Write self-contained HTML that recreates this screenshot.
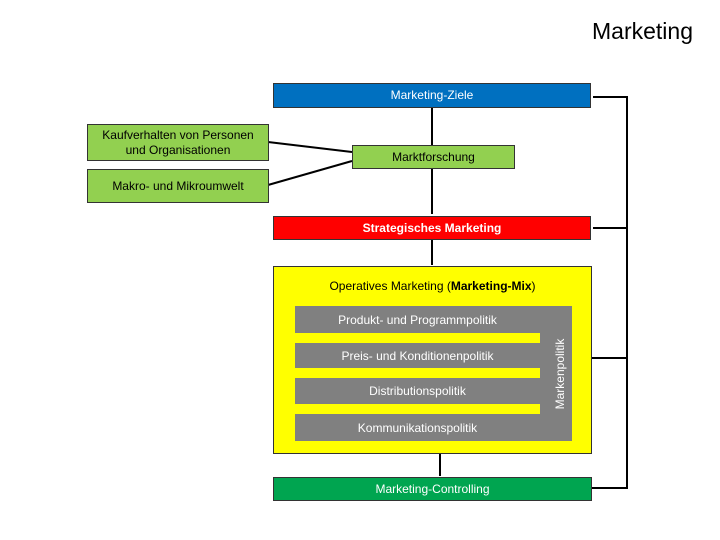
<!DOCTYPE html>
<html><head><meta charset="utf-8"><style>
body{margin:0;width:720px;height:540px;background:#fff;position:relative;font-family:"Liberation Sans",sans-serif;overflow:hidden}
.b{position:absolute;box-sizing:border-box;border:1px solid #333;display:flex;align-items:center;justify-content:center;text-align:center;font-size:12px;line-height:15px}
.g{position:absolute;background:#808080;color:#fff;font-size:12px;display:flex;align-items:center;justify-content:center}
.s{position:absolute;background:#ff0;left:295px;width:245px;height:10px}
</style></head><body>
<div style="position:absolute;right:27px;top:18px;font-size:23px">Marketing</div>
<svg width="720" height="540" style="position:absolute;left:0;top:0">
<g stroke="#000" stroke-width="2" fill="none">
<line x1="432" y1="107" x2="432" y2="145"/>
<line x1="432" y1="168" x2="432" y2="214"/>
<line x1="432" y1="239" x2="432" y2="265"/>
<line x1="440" y1="453" x2="440" y2="476"/>
<line x1="268" y1="142" x2="352" y2="152"/>
<line x1="268" y1="185" x2="352" y2="161"/>
<polyline points="591,488 627,488 627,97 593,97"/>
<line x1="627" y1="228" x2="593" y2="228"/>
<line x1="627" y1="358" x2="575" y2="358"/>
</g>
</svg>
<div class="b" style="left:273px;top:83px;width:318px;height:25px;background:#0070c0;color:#fff">Marketing-Ziele</div>
<div class="b" style="left:87px;top:124px;width:182px;height:37px;background:#92d050">Kaufverhalten von Personen<br>und Organisationen</div>
<div class="b" style="left:87px;top:169px;width:182px;height:34px;background:#92d050">Makro- und Mikroumwelt</div>
<div class="b" style="left:352px;top:145px;width:163px;height:24px;background:#92d050">Marktforschung</div>
<div class="b" style="left:273px;top:216px;width:318px;height:24px;background:#f00;color:#fff;font-weight:bold">Strategisches Marketing</div>
<div class="b" style="left:273px;top:266px;width:319px;height:188px;background:#ff0;align-items:flex-start;padding-top:12px">Operatives Marketing (<b>Marketing-Mix</b>)</div>
<div class="g" style="left:295px;top:306px;width:277px;height:135px"></div>
<div class="s" style="top:333px"></div>
<div class="s" style="top:368px"></div>
<div class="s" style="top:404px"></div>
<div class="g" style="left:295px;top:308px;width:245px;height:24px;background:none">Produkt- und Programmpolitik</div>
<div class="g" style="left:295px;top:343px;width:275px;height:25px;background:none;padding-right:30px;box-sizing:border-box">Preis- und Konditionenpolitik</div>
<div class="g" style="left:295px;top:378px;width:245px;height:26px;background:none">Distributionspolitik</div>
<div class="g" style="left:295px;top:415px;width:245px;height:26px;background:none">Kommunikationspolitik</div>
<div class="g" style="left:510px;top:366px;width:100px;height:16px;background:none;transform:rotate(-90deg)">Markenpolitik</div>
<div class="b" style="left:273px;top:477px;width:319px;height:24px;background:#00a550;color:#fff">Marketing-Controlling</div>
</body></html>
